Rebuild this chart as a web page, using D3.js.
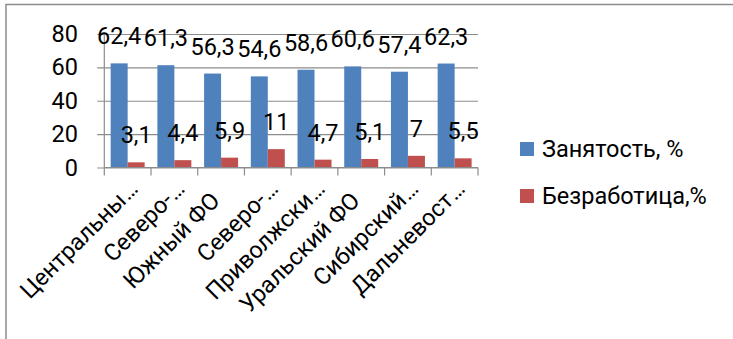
<!DOCTYPE html>
<html>
<head>
<meta charset="utf-8">
<script src="https://cdn.jsdelivr.net/npm/d3@7"></script>
<style>
  html, body { margin: 0; padding: 0; background: #fff; }
  svg { display: block; font-family: Roboto, "Noto Sans", sans-serif; }
</style>
</head>
<body>
<svg id="chart" width="733" height="339"></svg>
<script>
// Federal districts (labels as shown on the axis, long ones cut with an ellipsis)
const categories = ["Центральны…", "Северо-…", "Южный ФО", "Северо-…",
                    "Приволжски…", "Уральский ФО", "Сибирский…", "Дальневост…"];
const employment = [62.4, 61.3, 56.3, 54.6, 58.6, 60.6, 57.4, 62.3];
const unemployment = [3.1, 4.4, 5.9, 11, 4.7, 5.1, 7, 5.5];
const seriesNames = ["Занятость, %", "Безработица,%"];
const yTicks = [0, 20, 40, 60, 80];

const colors = ["#4F81BD", "#C0504D"];
const gridColor = "#8c8c8c";
const fontSize = 23.5;

const svg = d3.select("#chart");

// Outer frame (top and left edges)
svg.append("path")
  .attr("d", "M6,339 V4.5 H733")
  .attr("fill", "none")
  .attr("stroke", gridColor)
  .attr("stroke-width", 1.5);

const plot = { left: 104.3, right: 478, top: 34, bottom: 167.5 };

const x = d3.scaleBand()
  .domain(d3.range(categories.length))
  .range([plot.left, plot.right])
  .paddingInner(0)
  .paddingOuter(0);

// two bars per group, gap between groups = 1.5 bar widths
const inner = d3.scaleBand()
  .domain([0, 1])
  .range([0, x.bandwidth()])
  .paddingInner(0)
  .paddingOuter(0.375);

const y = d3.scaleLinear().domain([0, 80]).range([plot.bottom, plot.top]);

// Horizontal gridlines with short outer ticks on the left
const yAxis = d3.axisLeft(y)
  .tickValues(yTicks)
  .tickSize(plot.right - plot.left + 7)
  .tickFormat(d => d);

const gy = svg.append("g")
  .attr("transform", `translate(${plot.right},0)`)
  .call(yAxis);
gy.select(".domain").remove();
gy.selectAll(".tick line").attr("stroke", gridColor).attr("stroke-width", 1.2);
gy.selectAll(".tick text")
  .attr("x", -(plot.right - 78))
  .attr("fill", "#000")
  .style("font-size", fontSize + "px")
  .style("font-family", "Roboto, sans-serif");

// Vertical axis line
svg.append("line")
  .attr("x1", plot.left).attr("x2", plot.left)
  .attr("y1", plot.top).attr("y2", plot.bottom)
  .attr("stroke", gridColor).attr("stroke-width", 1.2);

// Bars
const series = [employment, unemployment];
series.forEach((vals, s) => {
  svg.append("g").selectAll("rect")
    .data(vals)
    .join("rect")
    .attr("x", (d, i) => x(i) + inner(s))
    .attr("width", inner.bandwidth())
    .attr("y", d => y(d))
    .attr("height", d => y(0) - y(d))
    .attr("fill", colors[s]);
});

// Value labels above the bars
const fmt = v => String(v).replace(".", ",");
series.forEach((vals, s) => {
  svg.append("g").selectAll("text")
    .data(vals)
    .join("text")
    .attr("x", (d, i) => x(i) + inner(s) + inner.bandwidth() / 2)
    .attr("y", d => y(d) - 19)
    .attr("text-anchor", "middle")
    .style("font-size", fontSize + "px")
    .attr("fill", "#000")
    .text(fmt);
});

// Category axis with tick marks between groups
const xAxisLine = svg.append("g");
xAxisLine.append("line")
  .attr("x1", plot.left).attr("x2", plot.right)
  .attr("y1", plot.bottom).attr("y2", plot.bottom)
  .attr("stroke", gridColor).attr("stroke-width", 1.2);
xAxisLine.selectAll("line.tk")
  .data(d3.range(categories.length + 1))
  .join("line")
  .attr("class", "tk")
  .attr("x1", i => plot.left + i * x.step())
  .attr("x2", i => plot.left + i * x.step())
  .attr("y1", plot.bottom).attr("y2", plot.bottom + 8)
  .attr("stroke", gridColor).attr("stroke-width", 1.2);

// Rotated category labels; an ellipsis runs past the anchor point
const lab = svg.append("g").selectAll("g")
  .data(categories)
  .join("g")
  .attr("transform", (d, i) => `translate(${x(i) + x.bandwidth() / 2},202) rotate(-45)`);
lab.append("text")
  .attr("text-anchor", "end")
  .style("font-size", fontSize + "px")
  .attr("fill", "#000")
  .text(d => d.replace("…", ""));
lab.filter(d => d.endsWith("…"))
  .append("text")
  .attr("x", 1)
  .attr("text-anchor", "start")
  .style("font-size", fontSize + "px")
  .attr("fill", "#000")
  .text("…");

// Legend
const legend = svg.append("g").selectAll("g")
  .data(seriesNames)
  .join("g")
  .attr("transform", (d, i) => `translate(520,${142 + i * 47})`);
legend.append("rect")
  .attr("width", 14).attr("height", 14)
  .attr("fill", (d, i) => colors[i]);
legend.append("text")
  .attr("x", 22).attr("y", 15)
  .style("font-size", fontSize + "px")
  .attr("fill", "#000")
  .text(d => d);
</script>
</body>
</html>
